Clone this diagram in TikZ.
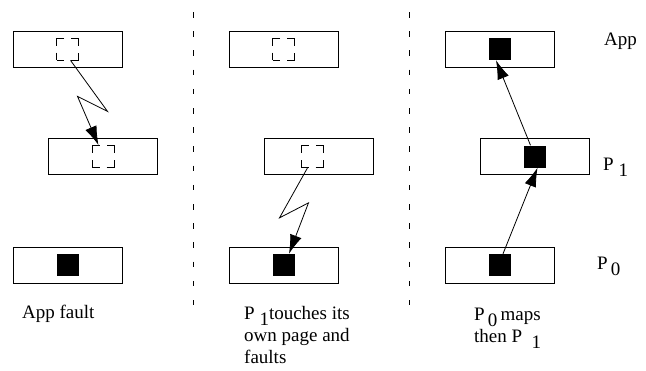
\documentclass[tikz,border=0pt]{standalone}
\usepackage{fontspec}
\setmainfont{Liberation Serif}
\usetikzlibrary{positioning,arrows.meta,calc}
\tikzset{
    on grid,
    node distance=108pt,
    block/.style = {
        draw,
        shape=rectangle,
        minimum height=36pt,
        minimum width=109pt,
        inner sep=0pt,
        line width=0.9pt
    },
    page/.style = {
        shape=rectangle,
        minimum height=22pt,
        minimum width=22pt,
        inner sep=0pt
    },
    mapped/.style = {
        page,
        fill=black
    },
    unmapped/.style = {
        page,
        draw,
        line width=0.7pt,
        dash pattern=on 15pt off 7pt,
        dash phase=7.5pt
    },
    txt/.style = {
        anchor=base west,
        inner sep=0pt,
        align=left,
        font=\fontsize{19}{22}\selectfont
    },
    divider/.style = {
        line width=0.9pt,
        dash pattern=on 5.5pt off 13.7pt
    },
    >={Latex[length=19pt,width=12pt]},
}
\newcommand{\lowsub}[1]{\raisebox{-6pt}{#1}}

\begin{document}
\begin{tikzpicture}[x=1pt,y=-1pt]
        \useasboundingbox (0,0) rectangle (646,370);

        % boxes, one column per step
        \node[block] (appa) at (67.5,49) {};
        \node[block, below right=107.5pt and 35.5pt of appa] (ponea) {};
        \node[block, below=216pt of appa] (pzeroa) {};

        \node[block, right=216pt of appa] (appb) {};
        \node[block, right=216pt of ponea] (poneb) {};
        \node[block, right=216pt of pzeroa] (pzerob) {};

        \node[block, right=216pt of appb] (appc) {};
        \node[block, right=216pt of poneb] (ponec) {};
        \node[block, right=216pt of pzerob] (pzeroc) {};

        % pages
        \node[unmapped] (apppga) at (appa) {};
        \node[unmapped] (ponepga) at (ponea) {};
        \node[mapped] (pzeropga) at (pzeroa) {};

        \node[unmapped] (apppgb) at (appb) {};
        \node[unmapped, xshift=-7pt] (ponepgb) at (poneb) {};
        \node[mapped] (pzeropgb) at (pzerob) {};

        \node[mapped] (apppgc) at (appc) {};
        \node[mapped] (ponepgc) at (ponec) {};
        \node[mapped] (pzeropgc) at (pzeroc) {};

        % faults and mappings
        \draw[->, line width=0.8pt] ([xshift=3pt]apppga.south) -- ++(37,51) -- ++(-30,-15)
            -- ([xshift=-4.5pt]ponepga.north);
        \draw[->, line width=0.8pt] ([xshift=-4.5pt]ponepgb.south) -- ++(-28,50) -- ++(29,-15)
            -- ([xshift=5.5pt]pzeropgb.north);
        \draw[->, line width=0.8pt] ([xshift=3.5pt]pzeropgc.north) -- ([xshift=2.5pt]ponepgc.south);
        \draw[->, line width=0.8pt] ([xshift=-4.5pt]ponepgc.north) -- ([xshift=-3.5pt]apppgc.south);

        % dividers
        \coordinate (divtopa) at (193,12);
        \coordinate (divbota) at (193,305);
        \coordinate (divtopb) at (409,12);
        \coordinate (divbotb) at (409,305);
        \draw[divider] (divtopa) -- (divbota);
        \draw[divider] (divtopb) -- (divbotb);

        % row names
        \node[txt] (lblapp) at (604,45) {App};
        \node[txt] (lblpone) at (603,170) {P\ \lowsub{1}};
        \node[txt] (lblpzero) at (597,269) {P\,\lowsub{0}};

        % captions (base is the last line)
        \node[txt] (capa) at (22,318) {App fault};
        \node[txt] (capb) at (244,363) {P\ \lowsub{1}touches its\\own page and\\faults};
        \node[txt] (capc) at (474,342) {P\,\lowsub{0}\,maps\\then P\ \ \lowsub{1}};
\end{tikzpicture}
\end{document}
